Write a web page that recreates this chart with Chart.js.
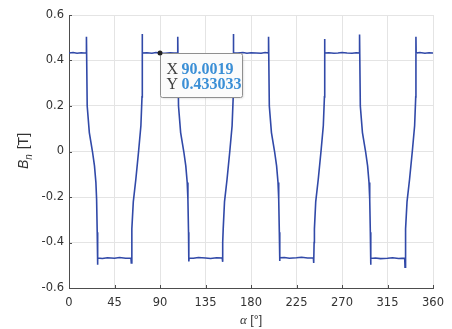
<!DOCTYPE html>
<html>
<head>
<meta charset="utf-8">
<script src="https://cdn.jsdelivr.net/npm/chart.js@4.4.0/dist/chart.umd.min.js"></script>
<style>
  html, body { margin: 0; padding: 0; background: #fff; }
  #wrap { width: 452px; height: 329px; }
</style>
</head>
<body>
<div id="wrap"><canvas id="grafico" width="452" height="329"></canvas></div>
<script>
// angulo (grados) y densidad de flujo normal Bn (T)
const alphaDeg = [
  0, 4, 8, 12, 15, 17.2,
  17.25, 18.0, 20.1, 23.2, 25.2, 26.6, 27.3, 27.9, 28.2, 28.5,
  33, 38, 45, 50, 56, 61.3,
  61.6, 62.0, 62.3, 63.6, 66.1, 68.8, 71.1, 72.2, 72.4, 72.6,
  77, 82, 86, 90.0019, 95, 100, 104, 107.5,
  107.55, 108.3, 110.4, 113.5, 115.5, 116.9, 117.6, 118.2, 118.5, 118.8,
  123, 128, 135, 140, 146, 151.5,
  151.8, 152.2, 152.5, 153.8, 156.3, 159.0, 161.3, 162.4, 162.6, 162.8,
  167, 172, 176, 180, 185, 190, 194, 197.3,
  197.35, 198.1, 200.2, 203.3, 205.3, 206.7, 207.4, 208.0, 208.3, 208.6,
  213, 218, 225, 230, 236, 241.7,
  242.0, 242.4, 242.7, 244.0, 246.5, 249.2, 251.5, 252.6, 252.8, 253.0,
  257, 262, 266, 270, 275, 280, 284, 287.3,
  287.35, 288.1, 290.2, 293.3, 295.3, 296.7, 297.4, 298.0, 298.3, 298.6,
  303, 308, 315, 320, 326, 332.0,
  332.3, 332.7, 333.0, 334.3, 336.8, 339.5, 341.8, 342.9, 343.1, 343.3,
  347, 352, 356, 360
];
const bn = [
  0.433, 0.435, 0.432, 0.434, 0.433, 0.433,
  0.504, 0.20, 0.083, 0.0, -0.063, -0.136, -0.21, -0.355, -0.498, -0.468,
  -0.470, -0.467, -0.469, -0.466, -0.469, -0.468,
  -0.490, -0.40, -0.34, -0.22, -0.122, 0.0, 0.113, 0.24, 0.517, 0.433,
  0.434, 0.432, 0.435, 0.433033, 0.432, 0.434, 0.433, 0.434,
  0.504, 0.20, 0.083, 0.0, -0.063, -0.136, -0.21, -0.355, -0.483, -0.468,
  -0.469, -0.466, -0.468, -0.470, -0.467, -0.468,
  -0.485, -0.40, -0.34, -0.22, -0.122, 0.0, 0.113, 0.24, 0.517, 0.433,
  0.433, 0.435, 0.432, 0.434, 0.433, 0.432, 0.435, 0.433,
  0.504, 0.20, 0.083, 0.0, -0.063, -0.136, -0.21, -0.355, -0.481, -0.467,
  -0.466, -0.469, -0.467, -0.465, -0.468, -0.467,
  -0.490, -0.40, -0.34, -0.22, -0.122, 0.0, 0.113, 0.24, 0.494, 0.433,
  0.434, 0.432, 0.433, 0.435, 0.433, 0.432, 0.434, 0.433,
  0.514, 0.20, 0.083, 0.0, -0.063, -0.136, -0.21, -0.355, -0.498, -0.470,
  -0.468, -0.471, -0.469, -0.467, -0.470, -0.469,
  -0.509, -0.40, -0.34, -0.22, -0.122, 0.0, 0.113, 0.24, 0.504, 0.433,
  0.435, 0.432, 0.434, 0.433
];
const xTicks = [0, 45, 90, 135, 180, 225, 270, 315, 360];
const yTicks = [-0.6, -0.4, -0.2, 0, 0.2, 0.4, 0.6];

// punto marcado (data tip)
const tipX = 90.0019;
const tipY = 0.433033;

const colorTexto = '#333333';
const fuenteTicks = { family: 'DejaVu Sans', size: 11.5 };

// ticks hacia dentro, titulos de ejes y data tip
const extras = {
  id: 'extras',
  afterDraw(chart) {
    const c = chart.ctx;
    const xs = chart.scales.x, ys = chart.scales.y;
    const area = chart.chartArea;

    c.save();
    c.strokeStyle = '#4d4d4d';
    c.lineWidth = 1;
    c.beginPath();
    xTicks.forEach(v => {
      const px = Math.round(xs.getPixelForValue(v)) + 0.5;
      c.moveTo(px, area.bottom);
      c.lineTo(px, area.bottom - 3);
    });
    yTicks.forEach(v => {
      const py = Math.round(ys.getPixelForValue(v)) + 0.5;
      c.moveTo(area.left, py);
      c.lineTo(area.left + 3, py);
    });
    c.stroke();

    // titulo eje x: alpha [°]
    c.fillStyle = colorTexto;
    c.textBaseline = 'alphabetic';
    const cx = (area.left + area.right) / 2;
    c.font = 'italic 13px "Liberation Serif"';
    const wA = c.measureText('α').width;
    c.font = '12.5px "Liberation Sans"';
    const wR = c.measureText(' [°]').width;
    let x0 = cx - (wA + wR) / 2;
    c.font = 'italic 13px "Liberation Serif"';
    c.fillText('α', x0, 324);
    c.font = '12.5px "Liberation Sans"';
    c.fillText(' [°]', x0 + wA, 324);

    // titulo eje y: B_n [T]
    c.translate(28, (area.top + area.bottom) / 2);
    c.rotate(-Math.PI / 2);
    c.font = 'italic 14px "Liberation Sans"';
    const wB = c.measureText('B').width;
    c.font = 'italic 10px "Liberation Sans"';
    const wN = c.measureText('n').width;
    c.font = '14px "Liberation Sans"';
    const wT = c.measureText(' [T]').width;
    x0 = -(wB + wN + wT) / 2;
    c.font = 'italic 14px "Liberation Sans"';
    c.fillText('B', x0, 0);
    c.font = 'italic 10px "Liberation Sans"';
    c.fillText('n', x0 + wB, 4);
    c.font = '14px "Liberation Sans"';
    c.fillText(' [T]', x0 + wB + wN + 1, 0);
    c.restore();

    // data tip
    const dx = xs.getPixelForValue(tipX);
    const dy = ys.getPixelForValue(tipY);
    c.save();
    c.shadowColor = 'rgba(0,0,0,0.15)';
    c.shadowBlur = 2;
    c.shadowOffsetX = 1;
    c.shadowOffsetY = 1;
    c.fillStyle = '#fbfbfb';
    c.strokeStyle = '#8f8f8f';
    c.lineWidth = 1;
    c.beginPath();
    c.roundRect(Math.round(dx) + 0.5, Math.round(dy) + 0.5, 82, 44, 2);
    c.fill();
    c.shadowColor = 'transparent';
    c.stroke();

    c.fillStyle = '#222';
    c.beginPath();
    c.arc(dx, dy, 2.5, 0, Math.PI * 2);
    c.fill();

    c.textBaseline = 'alphabetic';
    c.font = '16px "Liberation Serif"';
    c.fillStyle = '#404040';
    c.fillText('X', dx + 6.5, dy + 21);
    c.fillText('Y', dx + 6.5, dy + 36);
    c.font = 'bold 16px "Liberation Serif"';
    c.fillStyle = '#3b8fd6';
    c.fillText(tipX.toFixed(4), dx + 21.5, dy + 21);
    c.fillText(tipY.toFixed(6), dx + 21.5, dy + 36);
    c.restore();
  }
};

const ctx = document.getElementById('grafico').getContext('2d');

new Chart(ctx, {
  type: 'line',
  data: {
    datasets: [{
      data: alphaDeg.map((a, i) => ({ x: a, y: bn[i] })),
      borderColor: '#3149a8',
      borderWidth: 1.6,
      pointRadius: 0,
      tension: 0,
      fill: false
    }]
  },
  options: {
    responsive: false,
    animation: false,
    events: [],
    layout: { padding: { top: 15, right: 13.5, left: 0, bottom: 0 } },
    plugins: {
      legend: { display: false },
      tooltip: { enabled: false }
    },
    scales: {
      x: {
        type: 'linear',
        min: 0,
        max: 360,
        afterBuildTicks: axis => { axis.ticks = xTicks.map(v => ({ value: v })); },
        afterFit: s => { s.height = 41; },
        ticks: {
          font: fuenteTicks,
          color: colorTexto,
          padding: 8,
          maxRotation: 0,
          autoSkip: false,
          callback: v => String(v)
        },
        grid: { color: '#e4e4e4', drawTicks: false },
        border: { color: '#4d4d4d', width: 1 }
      },
      y: {
        min: -0.6,
        max: 0.6,
        afterBuildTicks: axis => { axis.ticks = yTicks.map(v => ({ value: v })); },
        afterFit: s => { s.width = 69; },
        ticks: {
          font: fuenteTicks,
          color: colorTexto,
          padding: 5,
          autoSkip: false,
          callback: v => String(Number(v.toFixed(1)))
        },
        grid: { color: '#e4e4e4', drawTicks: false },
        border: { color: '#4d4d4d', width: 1 }
      }
    }
  },
  plugins: [extras]
});
</script>
</body>
</html>
